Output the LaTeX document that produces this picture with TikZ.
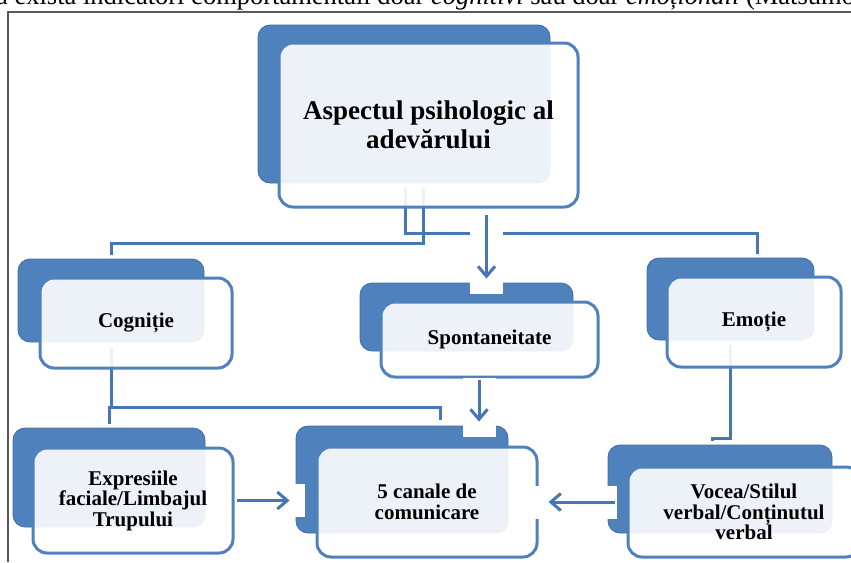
\documentclass[tikz,border=0pt]{standalone}
\usepackage{fontspec}
\setmainfont{Liberation Serif}
\usetikzlibrary{arrows.meta}
\pgfdeclarelayer{back}
\pgfdeclarelayer{links}
\pgfsetlayers{back,links,main}
\definecolor{boxblue}{HTML}{4F81BD}
\definecolor{rimblue}{HTML}{3A6699}
\definecolor{linkblue}{HTML}{4677B4}
\pgfdeclareverticalshading{boxshade}{100bp}{color(0bp)=(boxblue); color(91bp)=(boxblue); color(100bp)=(rimblue)}

\begin{document}
\begin{tikzpicture}[
    x=1pt, y=-1pt,
    backbox/.style={shading=boxshade, draw=rimblue!70!boxblue, line width=0.8pt, rounded corners=12pt, inner sep=0pt},
    frontbox/.style={draw=boxblue, line width=3pt, fill=white, fill opacity=0.9, text opacity=1,
        rounded corners=14pt, inner sep=0pt, align=center, font=\bfseries\fontsize{21}{20.5}\selectfont},
    conn/.style={draw=linkblue, line width=3pt},
    arrowlink/.style={conn, -{Straight Barb[length=10pt,width=17pt]},
        preaction={draw=white, line width=33pt, -, shorten >=-15pt, shorten <=-2pt}}
]
    \useasboundingbox (0,0) rectangle (851,562);
    \clip (0,0) rectangle (851,562);

    % Page
    \node[anchor=base west, inner sep=0pt, font=\fontsize{26.5}{26.5}\selectfont] (txt) at (-4,5)
        {a exista indicatori comportamentali doar \textit{cognitivi} sau doar \textit{emoționali} (Matsumoto};
    \draw[black!65, line width=1.2pt] (851,12) -- (8,12) -- (8,562);

    % Back boxes
    \begin{pgfonlayer}{back}
    \node[backbox, minimum width=292pt, minimum height=158pt] (b1) at (404,104) {};
    \node[backbox, minimum width=186pt, minimum height=83pt] (b2) at (111,300.5) {};
    \node[backbox, minimum width=213pt, minimum height=68pt] (b3) at (466.5,317) {};
    \node[backbox, minimum width=167pt, minimum height=82pt] (b4) at (730.5,299) {};
    \node[backbox, minimum width=192pt, minimum height=99pt] (b5) at (109,477.5) {};
    \node[backbox, minimum width=212pt, minimum height=107pt] (b6) at (402,479.5) {};
    \node[backbox, minimum width=224pt, minimum height=88pt] (b7) at (720,489) {};
    \end{pgfonlayer}

    % Nodes
    \node[frontbox, minimum width=299pt, minimum height=164pt, font=\bfseries\fontsize{27}{29}\selectfont]
        (1) at (428.5,125) {Aspectul psihologic al\\adevărului};
    \node[frontbox, minimum width=192pt, minimum height=90pt] (2) at (136,323) {Cogniție};
    \node[frontbox, minimum width=217pt, minimum height=75pt] (3) at (489.5,339.5) {Spontaneitate};
    \node[frontbox, minimum width=174pt, minimum height=90pt] (4) at (754,322) {Emoție};
    \node[frontbox, minimum width=200pt, minimum height=105pt] (5) at (133,500.5) {Expresiile\\faciale/Limbajul\\Trupului};
    \node[frontbox, minimum width=220pt, minimum height=110pt] (6) at (427,502) {5 canale de\\comunicare};
    \node[frontbox, minimum width=232pt, minimum height=90pt] (7) at (744,512) {Vocea/Stilul\\verbal/Conținutul\\verbal};

    % Edges
    \begin{pgfonlayer}{links}
    \draw[conn] ([xshift=19pt,yshift=-5pt]b1.south) -- ++(0,55) -| ([yshift=4pt]b2.north);
    \draw[conn] ([xshift=1pt,yshift=-5pt]b1.south) -- ++(0,45) -| ([xshift=26.5pt,yshift=4pt]b4.north);
    \draw[conn] ([yshift=-6pt]b2.south) -- ++(0,59) -| ([yshift=4pt]b5.north);
    \draw[conn] ([yshift=-6pt]b2.south) -- ++(0,59) -| ([xshift=38pt,yshift=6pt]b6.north);
    \draw[conn] ([yshift=-5pt]b4.south) -- ++(0,93) -| ([xshift=-8pt,yshift=4pt]b7.north);
    \end{pgfonlayer}
    \draw[arrowlink] ([xshift=58pt,yshift=-6pt]1.south) -- ([xshift=20pt,yshift=4pt]b3.north);
    \draw[arrowlink] ([xshift=-10.5pt,yshift=-1pt]3.south) -- ([xshift=77pt,yshift=4pt]b6.north);
    \draw[arrowlink] ([xshift=2pt]5.east) -- ([xshift=-6pt]b6.west |- 5.east);
    \draw[arrowlink] ([xshift=7pt]b7.west |- 6.east) -- ([xshift=10pt]6.east);
\end{tikzpicture}
\end{document}
